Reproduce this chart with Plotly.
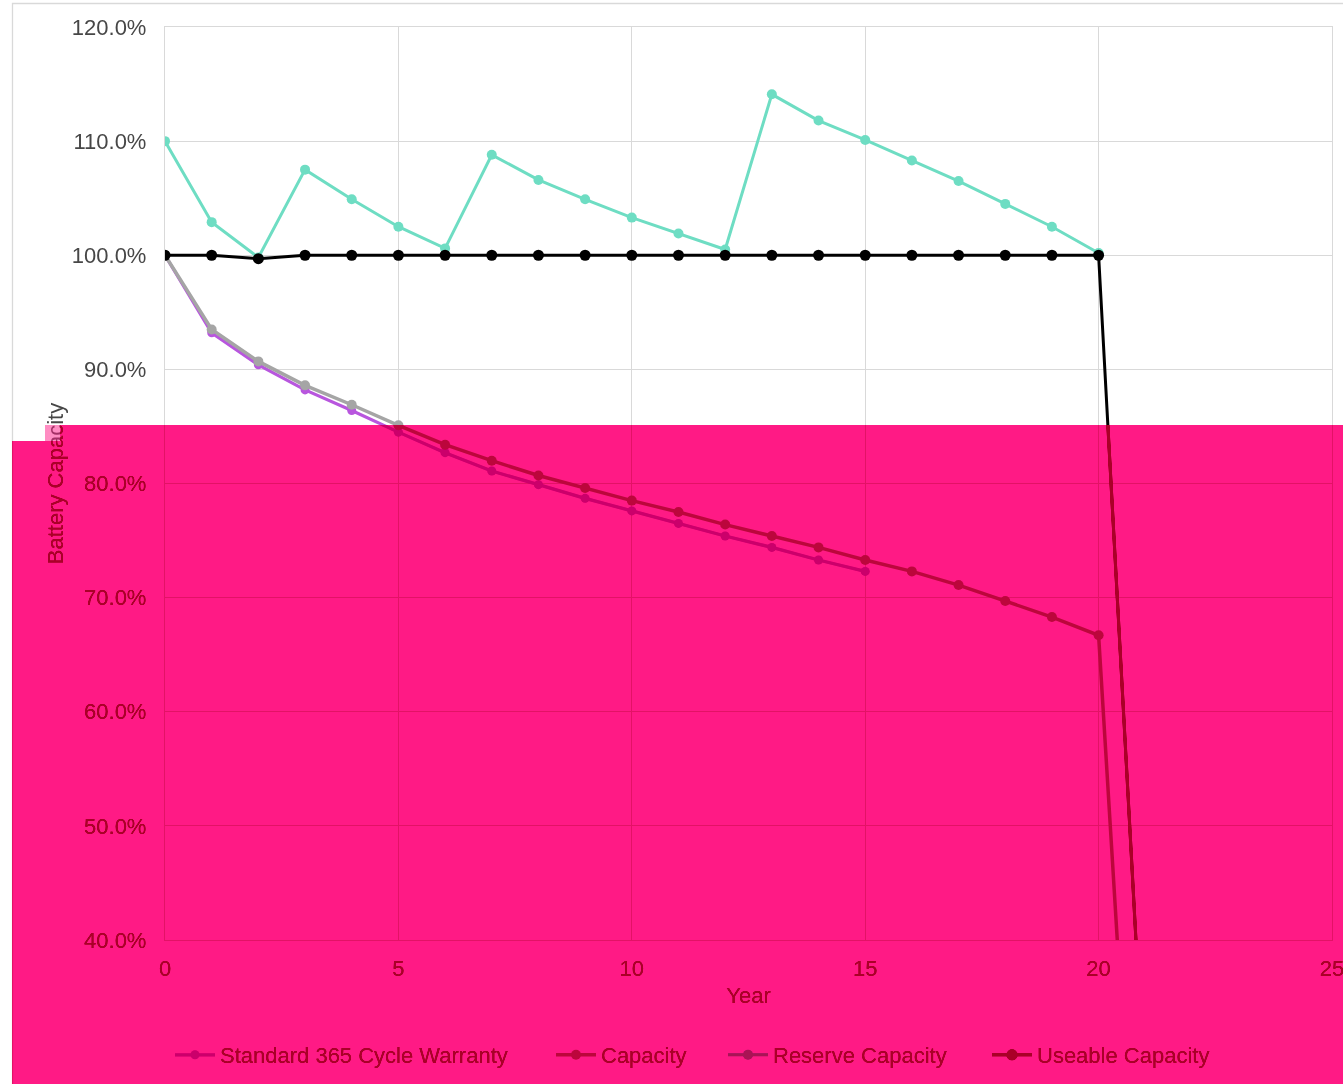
import json
import plotly.graph_objects as go

# ---- data -------------------------------------------------------------
years = list(range(0, 22))

standard_warranty = [100.0, 93.2, 90.4, 88.2, 86.4, 84.5, 82.7, 81.1, 79.9, 78.7,
                     77.6, 76.5, 75.4, 74.4, 73.3, 72.3]
capacity = [100.0, 93.5, 90.7, 88.6, 86.9, 85.1, 83.4, 82.0, 80.7, 79.6, 78.5,
            77.5, 76.4, 75.4, 74.4, 73.3, 72.3, 71.1, 69.7, 68.3, 66.7, 0.0]
reserve_capacity = [110.0, 102.9, 99.8, 107.5, 104.9, 102.5, 100.6, 108.8, 106.6,
                    104.9, 103.3, 101.9, 100.5, 114.1, 111.8, 110.1, 108.3, 106.5,
                    104.5, 102.5, 100.2]
useable_capacity = [100.0, 100.0, 99.7, 100.0, 100.0, 100.0, 100.0, 100.0, 100.0,
                    100.0, 100.0, 100.0, 100.0, 100.0, 100.0, 100.0, 100.0, 100.0,
                    100.0, 100.0, 100.0, 25.0]

y_ticks = [40, 50, 60, 70, 80, 90, 100, 110, 120]
y_tick_labels = ["40.0%", "50.0%", "60.0%", "70.0%", "80.0%", "90.0%",
                 "100.0%", "110.0%", "120.0%"]
x_ticks = [0, 5, 10, 15, 20, 25]

# ---- geometry ---------------------------------------------------------
W, H = 1343, 1084
L, R, T, B = 165, 1332, 27, 940          # plot area in pixels
PW, PH = R - L, B - T


def px_x(px):
    return (px - L) / PW


def px_y(py):
    return (B - py) / PH


FONT = "Arial, 'Liberation Sans', sans-serif"
FS = 22
TEXT = "#474747"
GRID = "#D9D9D9"

fig = go.Figure()

# name, values, colour, line width, marker size, legend id, legend left (px)
series = [
    ("Standard 365 Cycle Warranty", standard_warranty, "#B856DE", 3.2, 9, "legend", 170),
    ("Capacity", capacity, "#A5A5A5", 3.5, 10, "legend2", 551),
    ("Reserve Capacity", reserve_capacity, "#6EDDC3", 3, 10, "legend3", 723),
    ("Useable Capacity", useable_capacity, "#000000", 3, 11, "legend4", 987),
]
legends = {}
for name, vals, color, width, msize, leg, leg_x in series:
    fig.add_trace(go.Scatter(
        x=years[:len(vals)], y=vals, name=name, mode="lines+markers",
        line=dict(color=color, width=width),
        marker=dict(color=color, size=msize),
        legend=leg,
    ))
    legends[leg] = dict(orientation="h", x=px_x(leg_x), xanchor="left",
                        y=px_y(1055), yanchor="middle",
                        bgcolor="rgba(0,0,0,0)",
                        font=dict(family=FONT, size=FS, color=TEXT),
                        itemwidth=40)

# ---- overlay band -----------------------------------------------------
shapes = [
    # page background and chart frame
    dict(type="rect", xref="paper", yref="paper", layer="below",
         x0=px_x(0), x1=px_x(W), y0=px_y(H), y1=px_y(0),
         fillcolor="white", line=dict(width=0)),
    dict(type="rect", xref="paper", yref="paper", layer="below",
         x0=px_x(12.5), x1=px_x(W + 5), y0=px_y(H + 5), y1=px_y(3.5),
         fillcolor="rgba(0,0,0,0)", line=dict(color=GRID, width=1.3)),
]
blend_modes = {}

band_rects = [
    (60, W + 2, 425, H + 2),
    (12, 60, 441, H + 2),
]
band_layers = [
    ("color-burn", "rgb(115,115,115)"),
    ("multiply", "rgb(255,26,110)"),
    ("screen", "rgb(170,0,40)"),
]
for x0, x1, y0, y1 in band_rects:
    for mode, fill in band_layers:
        blend_modes[len(shapes)] = mode
        shapes.append(dict(type="rect", xref="paper", yref="paper", layer="above",
                           x0=px_x(x0), x1=px_x(x1), y0=px_y(y1), y1=px_y(y0),
                           fillcolor=fill, line=dict(width=0)))
shapes.append(dict(type="rect", xref="paper", yref="paper", layer="above",
                   x0=px_x(45), x1=px_x(60), y0=px_y(441), y1=px_y(425),
                   fillcolor="rgb(255,26,133)", opacity=0.5, line=dict(width=0)))

fig.update_layout(
    width=W, height=H, autosize=False,
    margin=dict(l=L, r=W - R, t=T, b=H - B, pad=0, autoexpand=False),
    paper_bgcolor="white", plot_bgcolor="white",
    font=dict(family=FONT, size=FS, color=TEXT),
    showlegend=True,
    shapes=shapes,
    xaxis=dict(range=[0, 25], tickvals=x_ticks, showgrid=True, gridcolor=GRID,
               gridwidth=1.3, zeroline=False, showline=True, linecolor=GRID,
               linewidth=1.3, mirror=True, ticks="", ticklabelstandoff=8,
               ticklabeloverflow="allow", automargin=False,
               title=dict(text="Year", standoff=8,
                          font=dict(size=FS, color=TEXT))),
    yaxis=dict(range=[40, 120], tickvals=y_ticks, ticktext=y_tick_labels,
               showgrid=True, gridcolor=GRID, gridwidth=1.3,
               zeroline=False, showline=True, linecolor=GRID, linewidth=1.3,
               mirror=True, ticks="", ticklabelstandoff=13, automargin=False,
               title=dict(text="Battery Capacity", standoff=2,
                          font=dict(size=FS, color=TEXT))),
    **legends,
)

post_script = """
var gd = document.getElementById('{plot_id}');
var above = gd.querySelector('.layer-above');
var info = gd.querySelector('.infolayer');
if (above && info) { above.parentNode.insertBefore(info, above); }
var modes = MODES;
if (above) {
  Object.keys(modes).forEach(function (k) {
    above.querySelectorAll('[data-index="' + k + '"]').forEach(function (el) {
      el.style.mixBlendMode = modes[k];
    });
  });
}
""".replace("MODES", json.dumps({str(k): v for k, v in blend_modes.items()}))

fig.write_html("out.html", post_script=post_script)
